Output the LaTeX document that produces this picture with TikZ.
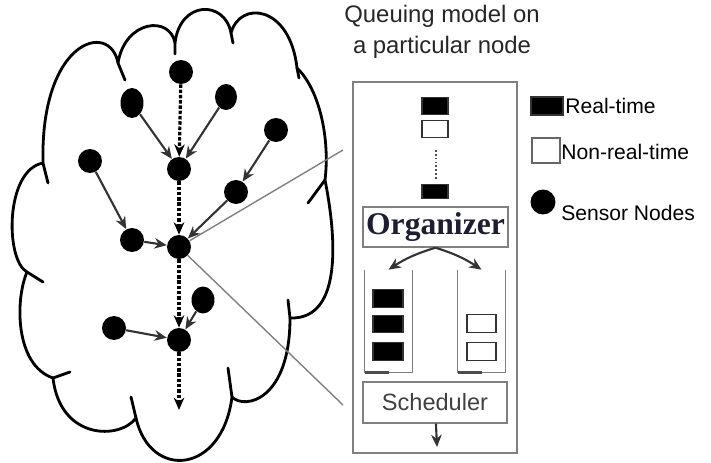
\documentclass[tikz,border=0pt]{standalone}
\usepackage{fontspec}
\setmainfont{Liberation Sans}
\newfontfamily\orgfont{Liberation Serif}
\usetikzlibrary{arrows.meta,shapes.geometric}

\definecolor{orgtext}{RGB}{30,30,50}

\tikzset{
    sensor/.style={circle,fill=black,inner sep=0pt,minimum size=0.48cm},
    link/.style={-{Stealth[length=7pt,width=6pt]},line width=1.2pt,black!80},
    trunk/.style={-{Stealth[length=7pt,width=6pt]},line width=1.8pt,dash pattern=on 2pt off 1pt},
    zoomline/.style={gray,line width=0.8pt},
    panel/.style={draw=gray,line width=0.8pt,inner sep=0pt},
    pkt/.style={draw=black!80,line width=0.7pt,inner sep=0pt,minimum width=0.52cm,minimum height=0.35cm},
    queue/.style={inner sep=0pt,minimum width=0.94cm,minimum height=2.04cm},
}

\begin{document}
    \begin{tikzpicture}[x={(0.02cm,0)},y={(0,-0.02cm)}]
        \useasboundingbox (0,0) rectangle (711,463);

        \draw[line width=1.6pt,line join=round]
        (43,163) .. controls (40,40) and (110,20) .. (118,63)
        .. controls (125,20) and (170,15) .. (175,43)
        .. controls (180,0) and (225,0) .. (231,33)
        .. controls (240,0) and (290,5) .. (297,68)
        .. controls (320,90) and (330,140) .. (325,180)
        .. controls (335,230) and (345,320) .. (290,318)
        .. controls (290,400) and (245,410) .. (232,397)
        .. controls (222,475) and (150,480) .. (136,418)
        .. controls (120,440) and (60,440) .. (53,378)
        .. controls (15,365) and (15,300) .. (27,272)
        .. controls (5,260) and (5,170) .. (43,163)
        ;
        \draw[line width=1.6pt,line cap=round]
        (43,163) -- (48,183)
        (118,63) -- (125,80)
        (175,43) -- (175,54)
        (231,33) -- (233,43)
        (297,68) -- (299,78)
        (325,180) -- (308,203)
        (290,318) -- (288,300)
        (232,397) -- (228,368)
        (136,418) -- (131,397)
        (53,378) -- (70,372)
        (27,272) -- (43,282)
        ;

        \node[sensor] (top) at (181,72) {};
        \node[sensor,ellipse,minimum width=0.46cm,minimum height=0.6cm] (ul) at (132,103) {};
        \node[sensor,ellipse,minimum width=0.44cm,minimum height=0.52cm] (ur) at (226,97) {};
        \node[sensor] (fr) at (276,130) {};
        \node[sensor] (hubA) at (179,169) {};
        \node[sensor] (fl) at (90,161) {};
        \node[sensor] (rm) at (236,192) {};
        \node[sensor] (lm) at (132,240) {};
        \node[sensor] (hubB) at (179,247) {};
        \node[sensor,ellipse,minimum width=0.46cm,minimum height=0.54cm] (lr) at (203,300) {};
        \node[sensor] (ll) at (114,328) {};
        \node[sensor] (hubC) at (179,340) {};
        \coordinate (sink) at (179,410);

        \draw[trunk] (top) -- (hubA);
        \draw[trunk] (hubA) -- (hubB);
        \draw[trunk] (hubB) -- (hubC);
        \draw[trunk] (hubC) -- (sink);

        \draw[link] (ul) -- (hubA);
        \draw[link] (ur) -- (hubA);
        \draw[link] (fr) -- (rm);
        \draw[link] (rm) -- (hubB);
        \draw[link] (fl) -- (lm);
        \draw[link] (lm) -- (hubB);
        \draw[link] (ll) -- (hubC);
        \draw[link] (lr) -- (hubC);

        \coordinate (zoomtop) at (343,150);
        \coordinate (zoombot) at (343,405);
        \draw[zoomline] (hubB) -- (zoomtop);
        \draw[zoomline] (hubB) -- (zoombot);

        \node[align=center,text=black!85,font=\fontsize{13.6}{17.6}\selectfont] (title) at (442,32)
        {Queuing model on\\a particular node};

        \node[panel,minimum width=3.28cm,minimum height=7.42cm] (box) at (435,267.5) {};

        \node[pkt,fill=black] (p1) at (435,106) {};
        \node[pkt] (p2) at (435,129) {};
        \node[pkt,fill=black,minimum height=0.27cm] (p3) at (435,191.5) {};
        \draw[line width=1pt,dash pattern=on 1pt off 1.2pt,black!70]
        (436,150) -- (436,180)
        ;

        \node[panel,minimum width=2.9cm,minimum height=0.8cm,
            font=\orgfont\bfseries\fontsize{18}{20}\selectfont,text=orgtext] (org) at (435.5,227) {Organizer};

        \node[queue] (rtq) at (388.5,321) {};
        \node[queue] (nrtq) at (481.5,321) {};
        \draw[gray,line width=0.8pt]
        (rtq.north west) -- (rtq.south west) -- (rtq.south east) -- (rtq.north east)
        (nrtq.north west) -- (nrtq.south west) -- (nrtq.south east) -- (nrtq.north east)
        ;
        \draw[black!70,line width=1.5pt]
        (rtq.south west) -- (rtq.south)
        (nrtq.south west) -- (nrtq.south)
        ;

        \draw[link] (org.south) to[bend right=8] (rtq.north);
        \draw[link] (org.south) to[bend left=8] (nrtq.north);

        \node[pkt,fill=black,minimum width=0.6cm] (r1) at (388,298.5) {};
        \node[pkt,fill=black,minimum width=0.6cm] (r2) at (388,324) {};
        \node[pkt,fill=black,minimum width=0.6cm] (r3) at (388,351.5) {};
        \node[pkt,minimum width=0.58cm] (n1) at (481.5,323.5) {};
        \node[pkt,minimum width=0.58cm] (n2) at (481.5,351.5) {};

        \node[panel,minimum width=2.88cm,minimum height=0.82cm,text=black!75,
            font=\fontsize{13.4}{15}\selectfont] (sched) at (435,402.5) {Scheduler};
        \coordinate (out) at (437,447);
        \draw[link] (sched) -- (out);

        \node[pkt,fill=black,minimum width=0.64cm,minimum height=0.36cm] (keyrt) at (547,106) {};
        \node[anchor=west,inner sep=0pt,font=\fontsize{12}{14}\selectfont] (keyrtlabel) at (565,106) {Real-time};
        \node[pkt,draw=black!60,minimum width=0.56cm,minimum height=0.5cm] (keynrt) at (546,150.5) {};
        \node[anchor=west,inner sep=0pt,font=\fontsize{12}{14}\selectfont] (keynrtlabel) at (561,152) {Non-real-time};
        \node[sensor,minimum size=0.5cm] (keysensor) at (543,202) {};
        \node[anchor=west,inner sep=0pt,font=\fontsize{12}{14}\selectfont] (keysensorlabel) at (561,213) {Sensor Nodes};
    \end{tikzpicture}
\end{document}
